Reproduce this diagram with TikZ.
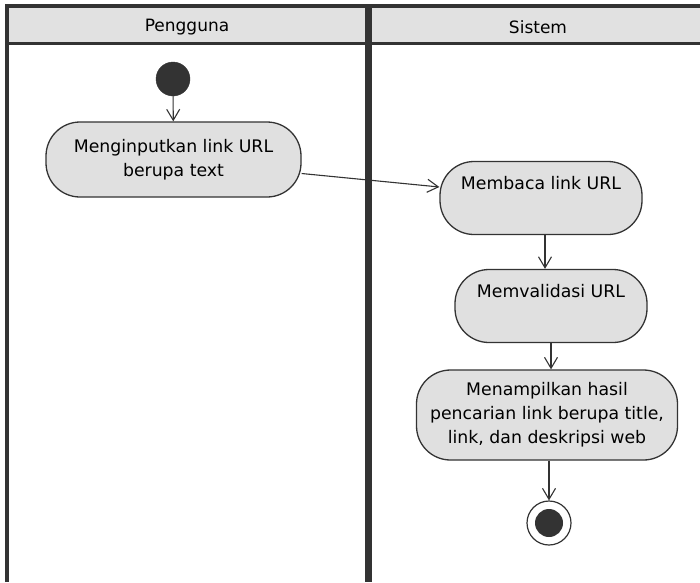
\documentclass[tikz,border=0pt]{standalone}
\usepackage{fontspec}
\setmainfont{DejaVu Sans}
\usepackage{tikz}
\usetikzlibrary{arrows.meta,positioning,calc}
\definecolor{lanegray}{HTML}{E1E1E1}
\definecolor{actgray}{HTML}{E0E0E0}
\definecolor{inkdark}{HTML}{333333}
\tikzset{
  act/.style={draw=inkdark, line width=1.3pt, rounded corners=34pt, align=center, fill=actgray, font=\fontsize{17.3}{24}\selectfont, inner sep=0pt},
  actone/.style={act, text depth=30pt},
  startdot/.style={draw=inkdark, circle, fill=inkdark, minimum size=34pt, inner sep=0pt},
  enddot/.style={draw=inkdark, circle, line width=1.2pt, fill=white, minimum size=44pt, inner sep=0pt,
    path picture={\fill[inkdark] (path picture bounding box.center) circle (14pt);}},
  lanehead/.style={font=\fontsize{17}{20}\selectfont, inner sep=0pt},
  flow/.style={-{Straight Barb[length=11pt,width=13pt]}, line width=1.1pt, draw=inkdark}
}

\begin{document}
\begin{tikzpicture}[x=1pt,y=-1pt]
  \useasboundingbox (0,0) rectangle (700,582);
  % swimlanes
  \fill[lanegray] (7,6) rectangle (700,43.5);
  \draw[inkdark, line width=4pt] (7,582) -- (7,6) -- (700,6);
  \draw[inkdark, line width=3pt] (7,43.5) -- (700,43.5);
  \draw[inkdark, line width=7pt] (368,4) -- (368,582);
  \node[lanehead] (pengguna) at (187,27) {Pengguna};
  \node[lanehead] (sistem) at (538,27) {Sistem};
  % actions
  \node[startdot] (start) at (173,79) {};
  \node[act, minimum width=255pt, minimum height=75pt] (input) at (173.5,159.5) {Menginputkan link URL\\berupa text};
  \node[actone, minimum width=202pt, minimum height=73pt] (baca) at (541,198) {Membaca link URL};
  \node[actone, minimum width=192pt, minimum height=73pt] (validasi) at (551,306) {Memvalidasi URL};
  \node[act, minimum width=261pt, minimum height=90pt] (tampil) at (547,415) {Menampilkan hasil\\pencarian link berupa title,\\link, dan deskripsi web};
  \node[enddot] (end) at (549,523) {};
  % flows
  \draw[flow] (start) -- (input);
  \draw[flow] ([yshift=-14pt]input.east) -- ([yshift=11pt]baca.west);
  \draw[flow] ([xshift=4pt]baca.south) -- ([xshift=-6pt]validasi.north);
  \draw[flow] (validasi.south) -- (validasi.south |- tampil.north);
  \draw[flow] (tampil.south -| end) -- (end);
\end{tikzpicture}
\end{document}
